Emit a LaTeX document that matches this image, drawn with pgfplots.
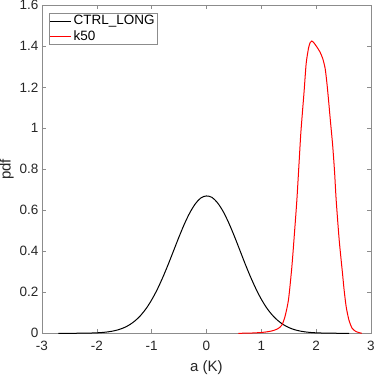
\documentclass[border=0pt]{standalone}
\usepackage{fontspec}
\setmainfont{Liberation Sans}
\usepackage{pgfplots}
\pgfplotsset{compat=1.18}
\usetikzlibrary{calc}

\begin{document}
\begin{tikzpicture}
\begin{axis}[
  name=ax,
  scale only axis,
  width=329pt, height=328pt,
  xmin=-3, xmax=3, ymin=0, ymax=1.6,
  xtick={-3,-2,-1,0,1,2,3},
  ytick={0,0.2,0.4,0.6,0.8,1,1.2,1.4,1.6},
  /pgf/number format/assume math mode=true,
  tick align=inside, major tick length=4pt,
  axis line style={black!45},
  tick style={black!45, line width=0.5pt},
  every tick label/.append style={font=\fontsize{13.5}{16}\selectfont, text=black!85},
  xticklabel style={yshift=-4pt},
  label style={font=\fontsize{15}{18}\selectfont, text=black!85},
  xlabel={a (K)}, ylabel={pdf},
  xlabel style={yshift=-3pt},
  ylabel style={yshift=-1pt},
  legend cell align=left,
  legend style={at={(0.0213,0.977)}, anchor=north west,
    draw=black!45, font=\fontsize{13.5}{15.5}\selectfont,
    inner xsep=0.5pt, inner ysep=0.5pt, row sep=0pt},
  legend image code/.code={\draw[#1] (0pt,0pt)--(21pt,0pt);},
]
\addplot[black, line width=1pt, smooth] coordinates {
  (-2.7,0.0000)(-2.6,0.0000)(-2.4,0.0002)(-2.2,0.0007)(-2.0,0.0023)
  (-1.9,0.0041)(-1.8,0.0069)(-1.7,0.0113)(-1.6,0.0180)(-1.5,0.0279)
  (-1.4,0.0421)(-1.3,0.0616)(-1.2,0.0876)(-1.1,0.121)(-1.0,0.163)
  (-0.9,0.213)(-0.8,0.271)(-0.7,0.335)(-0.6,0.403)(-0.5,0.471)
  (-0.4,0.535)(-0.3,0.590)(-0.2,0.633)(-0.1,0.661)(0.0,0.670)
  (0.1,0.663)(0.2,0.637)(0.3,0.596)(0.4,0.542)(0.5,0.479)
  (0.6,0.411)(0.7,0.342)(0.8,0.277)(0.9,0.218)(1.0,0.166)
  (1.1,0.123)(1.2,0.0890)(1.3,0.0625)(1.4,0.0425)(1.5,0.0282)
  (1.6,0.0181)(1.7,0.0113)(1.8,0.0069)(1.9,0.0041)(2.0,0.0023)
  (2.2,0.0007)(2.4,0.0002)(2.6,0.0000)
};
\addlegendentry{CTRL\_LONG}
\addplot[red, line width=1pt, smooth, tension=0.4] coordinates {
  (0.58,0.000)(0.80,0.001)(1.00,0.004)(1.10,0.007)(1.20,0.012)
  (1.30,0.022)(1.374,0.040)(1.43,0.080)(1.495,0.163)(1.557,0.325)
  (1.604,0.488)(1.648,0.650)(1.69,0.840)(1.72,0.976)(1.756,1.100)
  (1.78,1.180)(1.818,1.317)(1.86,1.390)(1.89,1.418)(1.92,1.426)
  (1.95,1.420)(2.01,1.398)(2.07,1.372)(2.12,1.340)(2.165,1.290)
  (2.20,1.210)(2.23,1.125)(2.26,1.035)(2.30,0.920)(2.335,0.790)
  (2.365,0.650)(2.42,0.455)(2.48,0.293)(2.51,0.211)(2.547,0.130)
  (2.597,0.065)(2.657,0.024)(2.73,0.008)(2.83,0.000)
};
\addlegendentry{k50}
\end{axis}
\pgfresetboundingbox
\path[use as bounding box] ($(ax.south west)+(-42pt,-41.7pt)$) rectangle ($(ax.north east)+(3pt,5.3pt)$);
\end{tikzpicture}
\end{document}
